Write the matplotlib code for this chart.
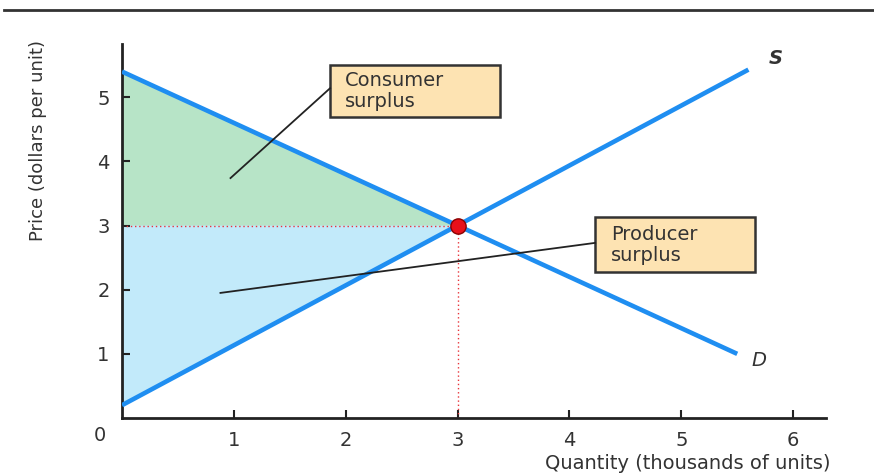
# consumer and producer surplus diagram

import matplotlib.pyplot as plt
from matplotlib.patches import Rectangle

plt.rcParams['font.family'] = ['DejaVu Sans']

# demand and supply end points (quantity, price)
demand_q = [0, 5.5]
demand_p = [5.4, 1.0]
supply_q = [0, 5.6]
supply_p = [0.2, 5.43]
eq_q, eq_p = 3, 3

x_ticks = [1, 2, 3, 4, 5, 6]
y_ticks = [1, 2, 3, 4, 5]

fig = plt.figure(figsize=(8.74, 4.76), dpi=100)
ax = fig.add_axes([0.1396, 0.1218, 0.805, 0.7858])

# surplus triangles
ax.fill([0, 0, eq_q], [demand_p[0], eq_p, eq_p], color="#b7e4c7", lw=0, zorder=1)
ax.fill([0, 0, eq_q], [eq_p, supply_p[0], eq_p], color="#c2eafa", lw=0, zorder=1)

# dotted guides to equilibrium
ax.plot([0, eq_q], [eq_p, eq_p], color="#e8343a", ls=(0, (1, 2)), lw=1, zorder=2)
ax.plot([eq_q, eq_q], [0, eq_p], color="#e8343a", ls=(0, (1, 2)), lw=1, zorder=2)

# curves
ax.plot(demand_q, demand_p, color="#1f8ef1", lw=3.3, solid_capstyle="butt", zorder=3)
ax.plot(supply_q, supply_p, color="#1f8ef1", lw=3.3, solid_capstyle="butt", zorder=3)
ax.plot(eq_q, eq_p, "o", color="#e8101a", markeredgecolor="#8a0000", markersize=11, zorder=4)

ax.text(5.78, 5.61, "S", fontsize=14, style="italic", fontweight="bold",
        color="#333333", va="center")
ax.text(5.63, 0.9, "D", fontsize=14, style="italic", color="#333333", va="center")

# annotation boxes
def label_box(x0, x1, y0, y1, text, tx, target, ly):
    ax.add_patch(Rectangle((x0, y0), x1 - x0, y1 - y0, facecolor="#fde3b2",
                           edgecolor="#333333", lw=1.8, zorder=5))
    ax.text(tx, (y0 + y1) / 2, text, fontsize=14, color="#333333",
            ha="left", va="center", linespacing=1.1, zorder=6)
    ax.plot([target[0], x0], [target[1], ly], color="#222222", lw=1.3, zorder=5)

label_box(1.86, 3.38, 4.69, 5.50, "Consumer\nsurplus", 1.99, (0.97, 3.74), 5.14)
label_box(4.23, 5.66, 2.27, 3.13, "Producer\nsurplus", 4.37, (0.88, 1.95), 2.73)

ax.set_xlim(0, 6.29)
ax.set_ylim(0, 5.83)
ax.set_xticks(x_ticks)
ax.set_yticks(y_ticks)
ax.tick_params(direction="in", length=6, width=1.5, labelsize=14,
               labelcolor="#333333", color="#222222")
ax.tick_params(axis="x", pad=9)
ax.tick_params(axis="y", pad=9)
ax.text(-0.2, -0.27, "0", fontsize=14, color="#333333", ha="center", va="center")
for s in ["top", "right"]:
    ax.spines[s].set_visible(False)
for s in ["left", "bottom"]:
    ax.spines[s].set_linewidth(2)
    ax.spines[s].set_color("#222222")

fig.text(0.95, 0.027, "Quantity (thousands of units)", fontsize=14,
         color="#333333", ha="right", va="center")
fig.text(0.044, 0.915, "Price (dollars per unit)", fontsize=13, rotation=90,
         color="#333333", ha="center", va="top")

# top rule
fig.add_artist(plt.Line2D([0.005, 1.0], [0.979, 0.979], color="#333333", lw=2))

plt.savefig("out.png", dpi=100)
